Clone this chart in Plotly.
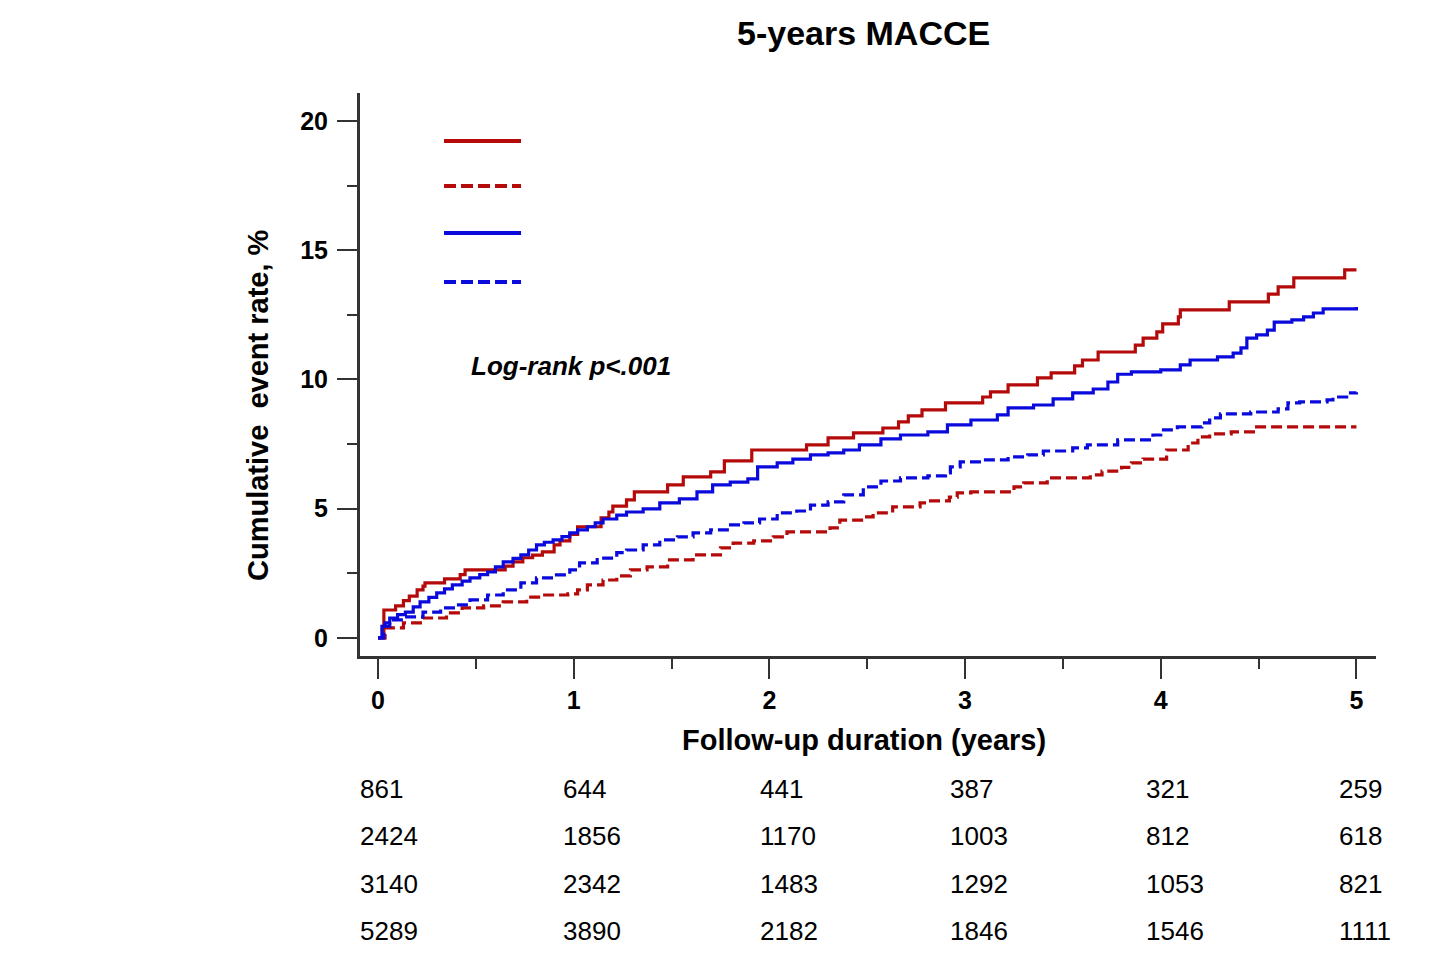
import plotly.graph_objects as go

# ---- data ----
red_solid_t = [0, 0.03, 0.09, 0.13, 0.16, 0.20, 0.23, 0.24, 0.34, 0.42, 0.445, 0.65, 0.69, 0.74, 0.79, 0.84,
               0.90, 0.93, 0.98, 1.02, 1.14, 1.18, 1.20, 1.27, 1.31, 1.48, 1.56, 1.70, 1.77, 1.91, 2.19, 2.30,
               2.43, 2.58, 2.66, 2.71, 2.78, 2.90, 3.09, 3.13, 3.22, 3.37, 3.44, 3.56, 3.60, 3.68, 3.87, 3.91,
               3.98, 4.01, 4.09, 4.10, 4.35, 4.55, 4.60, 4.68, 4.94, 5.0]
red_solid_v = [0, 1.08, 1.24, 1.44, 1.62, 1.86, 2.0, 2.13, 2.28, 2.45, 2.63, 2.78, 2.94, 3.1, 3.2, 3.33,
               3.6, 3.75, 4.0, 4.3, 4.64, 4.87, 5.1, 5.34, 5.65, 5.92, 6.23, 6.42, 6.85, 7.27, 7.47, 7.74,
               7.93, 8.12, 8.36, 8.59, 8.82, 9.09, 9.32, 9.52, 9.79, 10.06, 10.25, 10.52, 10.75, 11.06, 11.33, 11.6,
               11.84, 12.15, 12.42, 12.69, 13.0, 13.3, 13.58, 13.93, 14.24, 14.24]

red_dash_t = [0, 0.036, 0.13, 0.23, 0.35, 0.43, 0.54, 0.64, 0.76, 0.83, 0.97, 1.02, 1.07, 1.15, 1.22, 1.29,
              1.375, 1.48, 1.61, 1.75, 1.815, 1.92, 2.02, 2.09, 2.31, 2.36, 2.48, 2.53, 2.63, 2.77, 2.81, 2.92,
              2.96, 3.03, 3.25, 3.30, 3.42, 3.64, 3.70, 3.80, 3.85, 3.91, 4.03, 4.14, 4.19, 4.25, 4.36, 4.49, 5.0]
red_dash_v = [0, 0.39, 0.58, 0.77, 0.97, 1.16, 1.24, 1.39, 1.58, 1.66, 1.7, 1.86, 2.05, 2.24, 2.4, 2.63,
              2.75, 3.02, 3.21, 3.48, 3.67, 3.75, 3.91, 4.1, 4.26, 4.56, 4.68, 4.84, 5.07, 5.22, 5.3, 5.45,
              5.61, 5.65, 5.84, 6.0, 6.19, 6.31, 6.45, 6.6, 6.77, 6.92, 7.27, 7.54, 7.78, 7.89, 7.97, 8.16, 8.16]

blue_solid_t = [0, 0.02, 0.036, 0.06, 0.10, 0.14, 0.18, 0.215, 0.26, 0.30, 0.34, 0.38, 0.43, 0.47, 0.52, 0.56,
                0.60, 0.64, 0.69, 0.73, 0.77, 0.81, 0.85, 0.895, 0.94, 0.98, 1.02, 1.07,
                1.11, 1.15, 1.22, 1.27, 1.355, 1.44, 1.54, 1.63, 1.71, 1.80, 1.89, 1.94, 2.04, 2.12, 2.21, 2.30,
                2.38, 2.46, 2.57, 2.67, 2.81, 2.91, 3.03, 3.165, 3.22, 3.35, 3.45, 3.55, 3.655, 3.73, 3.78,
                3.85, 4.0, 4.10, 4.15, 4.29, 4.37, 4.41, 4.44, 4.49, 4.545, 4.58, 4.67, 4.73, 4.78, 4.83, 5.0]
blue_solid_v = [0, 0.45, 0.58, 0.77, 0.9, 1.0, 1.2, 1.39, 1.57, 1.74, 1.9, 2.05, 2.2, 2.32, 2.45, 2.55,
                2.75, 2.94, 3.08, 3.21, 3.4, 3.6, 3.7, 3.79, 3.92, 4.06, 4.18, 4.3,
                4.45, 4.6, 4.75, 4.87, 4.99, 5.22, 5.38, 5.65, 5.92, 6.03, 6.15, 6.62, 6.77, 6.92, 7.08, 7.16,
                7.27, 7.47, 7.7, 7.85, 7.97, 8.24, 8.43, 8.63, 8.9, 9.01, 9.25, 9.48, 9.63, 9.9, 10.2,
                10.29, 10.37, 10.56, 10.75, 10.87, 11.02, 11.22, 11.6, 11.72, 11.91, 12.22, 12.3, 12.42, 12.57, 12.73, 12.8]

blue_dash_t = [0, 0.03, 0.06, 0.13, 0.23, 0.32, 0.40, 0.47, 0.56, 0.64, 0.73, 0.81, 0.895, 0.98, 1.03,
               1.12, 1.22, 1.27, 1.355, 1.44, 1.53, 1.61, 1.70, 1.785, 1.87, 1.95, 2.04, 2.14, 2.21, 2.30,
               2.38, 2.48, 2.57, 2.67, 2.81, 2.90, 2.925, 2.975, 3.09, 3.22, 3.32, 3.40, 3.55, 3.625, 3.78,
               3.96, 4.0, 4.085, 4.21, 4.25, 4.305, 4.46, 4.60, 4.65, 4.71, 4.85, 4.88, 4.95, 5.0]
blue_dash_v = [0, 0.45, 0.7, 0.81, 1.0, 1.16, 1.28, 1.47, 1.66, 1.86, 2.13, 2.32, 2.44, 2.63, 2.9,
               3.09, 3.3, 3.4, 3.6, 3.79, 3.91, 4.06, 4.18, 4.37, 4.45, 4.6, 4.84, 4.91, 5.14, 5.26,
               5.53, 5.84, 6.07, 6.19, 6.27, 6.38, 6.62, 6.81, 6.89, 7.0, 7.08, 7.23, 7.35, 7.47, 7.66,
               7.85, 8.05, 8.16, 8.32, 8.51, 8.67, 8.74, 8.86, 9.09, 9.13, 9.21, 9.32, 9.48, 9.5]

x_tick_vals = [0, 1, 2, 3, 4, 5]
y_tick_vals = [0, 5, 10, 15, 20]

risk_years = [0, 1, 2, 3, 4, 5]
risk_row1 = [861, 644, 441, 387, 321, 259]
risk_row2 = [2424, 1856, 1170, 1003, 812, 618]
risk_row3 = [3140, 2342, 1483, 1292, 1053, 821]
risk_row4 = [5289, 3890, 2182, 1846, 1546, 1111]

# ---- styles ----
RED = "#B40A0A"
BLUE = "#0A0ADC"
AXIS = "#333333"
FONT = "Arial, Liberation Sans, sans-serif"
DASH = "11px,5px"

fig = go.Figure()
series = [
    (red_solid_t, red_solid_v, RED, "solid"),
    (red_dash_t, red_dash_v, RED, DASH),
    (blue_solid_t, blue_solid_v, BLUE, "solid"),
    (blue_dash_t, blue_dash_v, BLUE, DASH),
]
for t, v, c, d in series:
    fig.add_trace(go.Scatter(x=t, y=v, mode="lines", line=dict(color=c, width=3.2, dash=d, shape="hv"),
                             showlegend=False, hoverinfo="skip"))

fig.update_layout(
    width=1430, height=965,
    margin=dict(l=352, r=62, t=85, b=317),
    paper_bgcolor="white", plot_bgcolor="white",
    font=dict(family=FONT, color="black"),
    showlegend=False,
)
fig.update_xaxes(
    range=[-0.092, 5.1], tickvals=x_tick_vals, ticktext=[str(v) for v in x_tick_vals],
    showline=True, linecolor=AXIS, linewidth=3, showgrid=False, zeroline=False,
    ticks="outside", ticklen=20, tickwidth=2, tickcolor=AXIS,
    tickfont=dict(size=25, family=FONT, color="black", weight="bold"),
    minor=dict(dtick=0.5, tick0=0, ticks="outside", ticklen=10, tickwidth=2, tickcolor=AXIS),
    ticklabelstandoff=0,
)
fig.update_yaxes(
    range=[-0.70, 21.08], tickvals=y_tick_vals, ticktext=[str(v) for v in y_tick_vals],
    showline=True, linecolor=AXIS, linewidth=3, showgrid=False, zeroline=False,
    ticks="outside", ticklen=20, tickwidth=2, tickcolor=AXIS,
    tickfont=dict(size=25, family=FONT, color="black", weight="bold"),
    minor=dict(dtick=2.5, tick0=0, ticks="outside", ticklen=10, tickwidth=2, tickcolor=AXIS),
    ticklabelstandoff=4,
)

ann = []
ann.append(dict(text="<b>5-years MACCE</b>", x=0.496, y=1.1066, xref="paper", yref="paper",
                showarrow=False, font=dict(size=34, family=FONT, color="black"), xanchor="center", yanchor="middle"))
ann.append(dict(text="<b>Follow-up duration (years)</b>", x=0.496, y=-0.1492, xref="paper", yref="paper",
                showarrow=False, font=dict(size=29, family=FONT, color="black"), xanchor="center", yanchor="middle"))
ann.append(dict(text="<b>Cumulative  event rate, %</b>", x=-0.1004, y=0.4458, xref="paper", yref="paper",
                showarrow=False, textangle=-90, font=dict(size=29, family=FONT, color="black"),
                xanchor="center", yanchor="middle"))
ann.append(dict(text="<b><i>Log-rank p&lt;.001</i></b>", x=0.1073, y=0.515, xref="paper", yref="paper",
                showarrow=False, font=dict(size=26, family=FONT, color="black"), xanchor="left", yanchor="middle"))

risk_rows = [risk_row1, risk_row2, risk_row3, risk_row4]
row_y = [-0.2362, -0.3197, -0.405, -0.4885]
col_shift = [-20, -13, -11, -17, -17, -19]
for row, yy in zip(risk_rows, row_y):
    for yr, n, sh in zip(risk_years, row, col_shift):
        ann.append(dict(text=str(n), x=yr, y=yy, xref="x", yref="paper", xshift=sh,
                        showarrow=False, font=dict(size=26, family=FONT, color="black"),
                        xanchor="left", yanchor="middle"))
fig.update_layout(annotations=ann)

# legend samples (unlabelled, as in the reference)
leg_y = [0.9147, 0.8348, 0.7513, 0.6643]
leg_style = [(RED, "solid"), (RED, "12px,5px"), (BLUE, "solid"), (BLUE, "12px,5px")]
for yy, (c, d) in zip(leg_y, leg_style):
    fig.add_shape(type="line", xref="paper", yref="paper", x0=0.0827, x1=0.1585, y0=yy, y1=yy,
                  line=dict(color=c, width=4, dash=d))

fig.write_html("out.html")
